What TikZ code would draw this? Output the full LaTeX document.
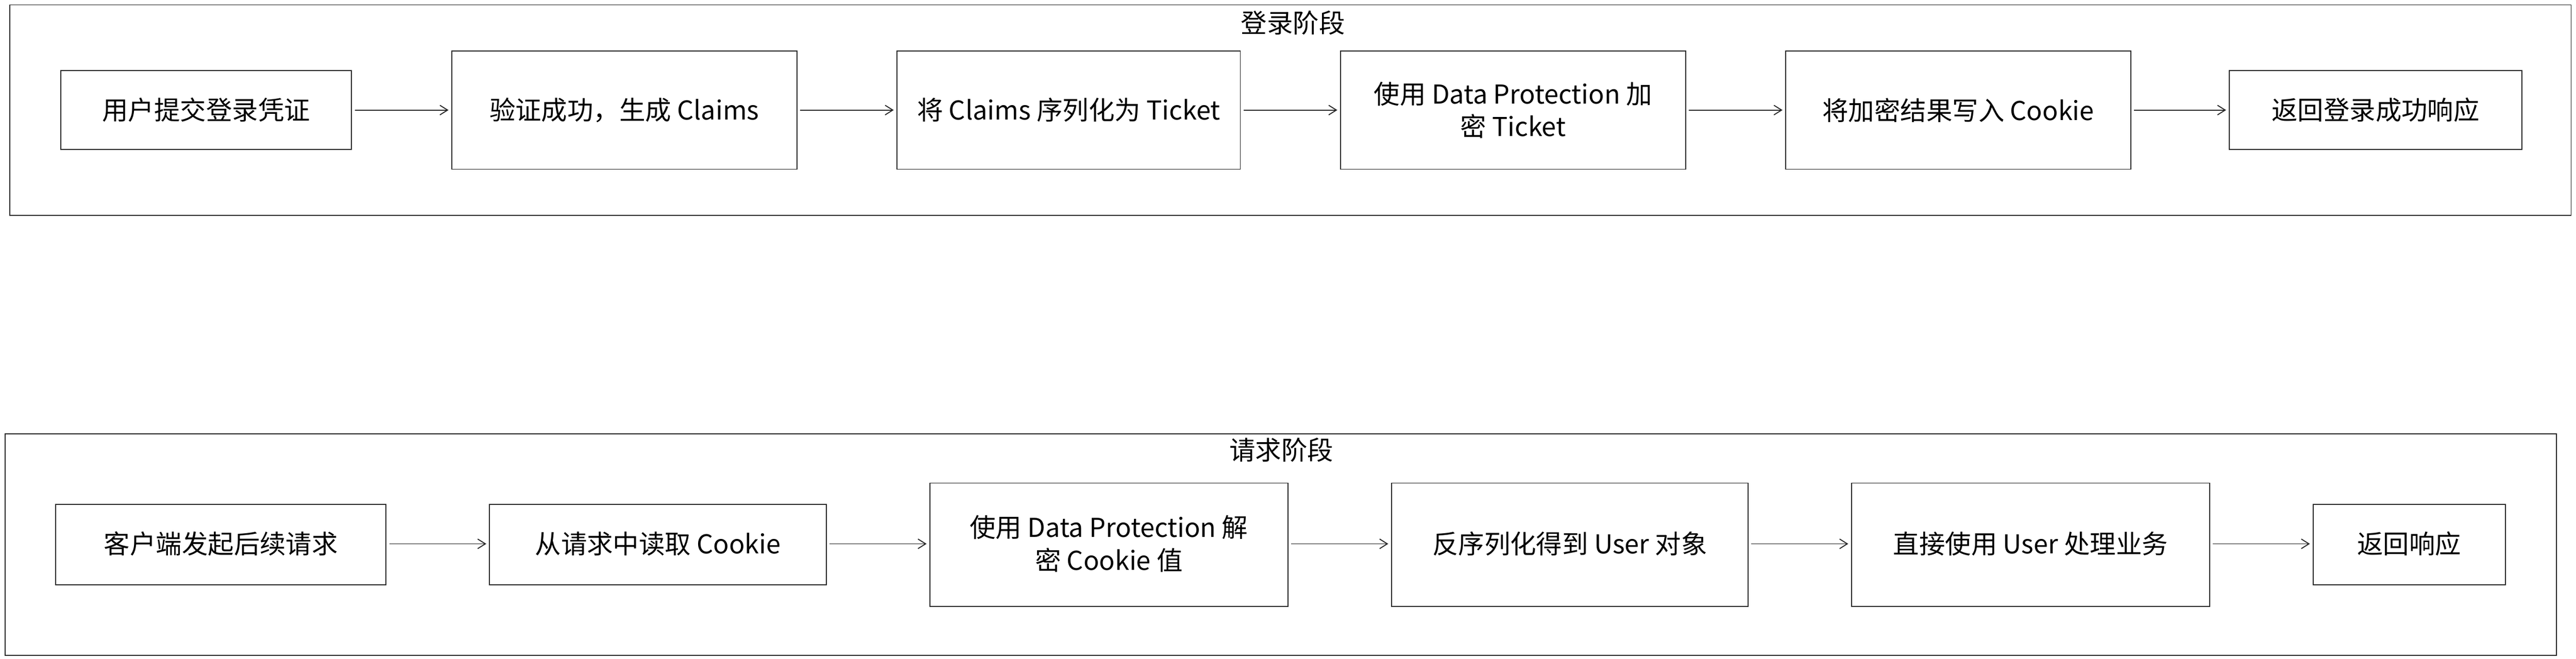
\documentclass[tikz,border=0pt]{standalone}
\usepackage{fontspec}
\setmainfont{Noto Sans CJK SC}
\usetikzlibrary{arrows.meta}
\begin{document}
\begin{tikzpicture}[x=0.03cm,y=-0.03cm,
  box/.style={draw=black!85,line width=0.5pt,fill=white},
  grp/.style={draw=black!85,line width=0.5pt},
  lbl/.style={font=\fontsize{13.5}{17}\selectfont,align=center},
  ttl/.style={font=\fontsize{13.5}{17}\selectfont},
  arr/.style={draw=black!85,line width=0.5pt,-{Straight Barb[length=4pt,width=5pt]}}]
\useasboundingbox (0,0) rectangle (1568,401);
\draw[grp] (6,3) rectangle (1565,131);
\node[ttl] (t1) at (787,14) {登录阶段};
\draw[grp] (3,264) rectangle (1556,399);
\node[ttl] (t2) at (780,274) {请求阶段};
% row 1
\draw[box] (37,43) rectangle (214,91); \node[lbl] (a1) at (125.5,67) {用户提交登录凭证};
\draw[box] (275,31) rectangle (485,103); \node[lbl] (a2) at (380,67) {验证成功，生成 Claims};
\draw[box] (546,31) rectangle (755,103); \node[lbl] (a3) at (650.5,67) {将 Claims 序列化为 Ticket};
\draw[box] (816,31) rectangle (1026,103); \node[lbl] (a4) at (921,67) {使用 Data Protection 加\\密 Ticket};
\draw[box] (1087,31) rectangle (1297,103); \node[lbl] (a5) at (1192,67) {将加密结果写入 Cookie};
\draw[box] (1357,43) rectangle (1535,91); \node[lbl] (a6) at (1446,67) {返回登录成功响应};
\coordinate (a1e) at (216,67); \coordinate (a2w) at (273,67);
\coordinate (a2e) at (487,67); \coordinate (a3w) at (544,67);
\coordinate (a3e) at (757,67); \coordinate (a4w) at (814,67);
\coordinate (a4e) at (1028,67); \coordinate (a5w) at (1085,67);
\coordinate (a5e) at (1299,67); \coordinate (a6w) at (1355,67);
\draw[arr] (a1e) -- (a2w); \draw[arr] (a2e) -- (a3w); \draw[arr] (a3e) -- (a4w);
\draw[arr] (a4e) -- (a5w); \draw[arr] (a5e) -- (a6w);
% row 2
\draw[box] (34,307) rectangle (235,356); \node[lbl] (b1) at (134.5,331) {客户端发起后续请求};
\draw[box] (298,307) rectangle (503,356); \node[lbl] (b2) at (400.5,331) {从请求中读取 Cookie};
\draw[box] (566,294) rectangle (784,369); \node[lbl] (b3) at (675,331) {使用 Data Protection 解\\密 Cookie 值};
\draw[box] (847,294) rectangle (1064,369); \node[lbl] (b4) at (955.5,331) {反序列化得到 User 对象};
\draw[box] (1127,294) rectangle (1345,369); \node[lbl] (b5) at (1236,331) {直接使用 User 处理业务};
\draw[box] (1408,307) rectangle (1525,356); \node[lbl] (b6) at (1466.5,331) {返回响应};
\coordinate (b1e) at (237,331); \coordinate (b2w) at (296,331);
\coordinate (b2e) at (505,331); \coordinate (b3w) at (564,331);
\coordinate (b3e) at (786,331); \coordinate (b4w) at (845,331);
\coordinate (b4e) at (1066,331); \coordinate (b5w) at (1125,331);
\coordinate (b5e) at (1347,331); \coordinate (b6w) at (1406,331);
\draw[arr] (b1e) -- (b2w); \draw[arr] (b2e) -- (b3w); \draw[arr] (b3e) -- (b4w);
\draw[arr] (b4e) -- (b5w); \draw[arr] (b5e) -- (b6w);
\end{tikzpicture}
\end{document}
